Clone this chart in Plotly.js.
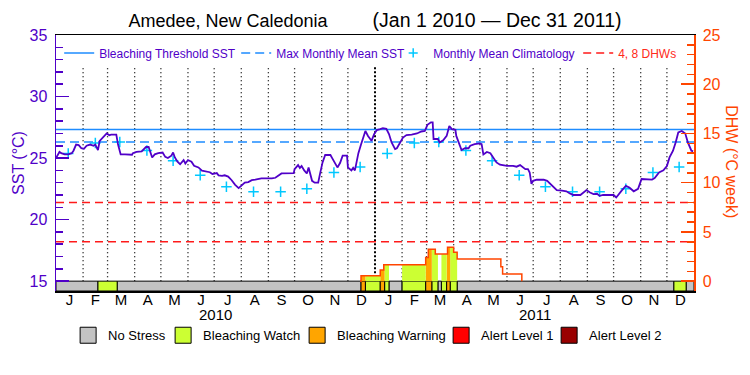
<!DOCTYPE html>
<html><head><meta charset="utf-8">
<script src="https://cdn.plot.ly/plotly-3.0.1.min.js"></script>
<style>html,body{margin:0;padding:0;background:#fff}</style>
</head><body><div id="chart" style="width:750px;height:375px"></div>
<script>
// ---------- data ----------
const sstDates = ['2010-01-01','2010-01-03','2010-01-05','2010-01-07','2010-01-11','2010-01-15','2010-01-19','2010-01-21','2010-01-24','2010-01-27','2010-01-30','2010-02-02','2010-02-05','2010-02-09','2010-02-13','2010-02-15','2010-02-18','2010-02-20','2010-02-24','2010-02-28','2010-03-03','2010-03-05','2010-03-10','2010-03-11','2010-03-13','2010-03-16','2010-03-21','2010-03-25','2010-03-29','2010-03-30','2010-04-03','2010-04-09','2010-04-14','2010-04-17','2010-04-19','2010-04-21','2010-04-24','2010-04-28','2010-05-03','2010-05-06','2010-05-09','2010-05-13','2010-05-15','2010-05-17','2010-05-20','2010-05-23','2010-05-27','2010-05-29','2010-06-01','2010-06-05','2010-06-08','2010-06-13','2010-06-17','2010-06-22','2010-06-26','2010-06-29','2010-07-04','2010-07-06','2010-07-10','2010-07-13','2010-07-17','2010-07-21','2010-07-25','2010-07-29','2010-08-01','2010-08-05','2010-08-09','2010-08-13','2010-08-17','2010-08-24','2010-09-05','2010-09-09','2010-09-16','2010-09-24','2010-09-30','2010-10-01','2010-10-05','2010-10-07','2010-10-09','2010-10-12','2010-10-15','2010-10-17','2010-10-21','2010-10-24','2010-10-28','2010-10-30','2010-11-02','2010-11-05','2010-11-11','2010-11-13','2010-11-16','2010-11-19','2010-11-22','2010-11-25','2010-11-30','2010-12-01','2010-12-05','2010-12-07','2010-12-09','2010-12-11','2010-12-13','2010-12-16','2010-12-19','2010-12-21','2010-12-24','2010-12-28','2010-12-31',
'2011-01-03','2011-01-07','2011-01-10','2011-01-14','2011-01-17','2011-01-20','2011-01-24','2011-01-26','2011-01-30','2011-02-02','2011-02-06','2011-02-12','2011-02-18','2011-02-23','2011-02-27','2011-03-02','2011-03-06','2011-03-08','2011-03-09','2011-03-14','2011-03-16','2011-03-20','2011-03-24','2011-03-27','2011-03-30','2011-04-03','2011-04-04','2011-04-06','2011-04-08','2011-04-10','2011-04-14','2011-04-18','2011-04-20','2011-04-25','2011-05-01','2011-05-03','2011-05-05','2011-05-09','2011-05-13','2011-05-16','2011-05-20','2011-05-24','2011-06-01','2011-06-08','2011-06-12','2011-06-16','2011-06-19','2011-06-22','2011-06-25','2011-06-27','2011-06-29','2011-07-01','2011-07-05','2011-07-13','2011-07-17','2011-07-20','2011-07-24','2011-07-28','2011-08-03','2011-08-08','2011-08-12','2011-08-16','2011-08-24','2011-08-27','2011-08-31','2011-09-04','2011-09-08','2011-09-12','2011-09-15','2011-09-19','2011-10-01','2011-10-04','2011-10-06','2011-10-10','2011-10-15','2011-10-19','2011-10-24','2011-10-29','2011-11-02','2011-11-08','2011-11-14','2011-11-17','2011-11-22','2011-11-27','2011-12-01','2011-12-04','2011-12-08','2011-12-11','2011-12-14','2011-12-18','2011-12-22','2011-12-25','2011-12-29','2011-12-31'];
const sstValues = [25.0,25.3,25.5,25.4,25.3,25.3,25.4,25.6,26.1,26.05,25.8,25.75,26.0,26.1,26.0,26.1,25.65,26.4,26.7,27.0,26.85,26.9,26.9,26.9,26.1,25.3,25.3,25.27,25.27,25.4,25.5,25.55,25.9,25.9,25.5,25.05,25.3,25.4,25.45,25.1,25.0,25.2,25.45,25.05,24.7,24.5,24.84,24.56,24.84,24.7,24.37,24.24,23.97,23.9,23.85,23.7,23.78,23.6,23.55,23.6,23.5,23.2,22.83,22.56,22.72,23.0,23.05,23.2,23.25,23.35,23.35,23.4,23.75,23.78,23.78,24.1,24.43,24.2,24.35,24.0,23.75,24.24,23.15,23.0,23.0,23.7,24.65,25.25,25.25,25.0,24.65,24.24,24.6,25.2,25.2,24.24,24.0,24.2,24.0,24.78,25.4,26.1,26.7,27.2,26.8,26.4,26.95,
27.27,27.35,27.43,27.38,26.95,26.27,25.73,25.8,26.27,26.67,26.87,26.9,27.0,27.16,27.2,27.7,27.9,27.9,26.55,26.55,26.27,26.45,26.8,27.6,27.35,27.3,26.8,26.4,26.0,25.65,25.8,25.8,26.0,26.14,26.2,26.14,25.3,25.5,25.4,25.05,24.65,24.46,24.37,24.37,24.3,24.43,24.3,24.1,24.1,23.83,22.9,23.15,23.24,23.24,23.15,22.93,22.67,22.4,22.35,22.3,22.13,22.0,22.0,22.2,22.4,22.2,22.07,22.1,21.93,22.0,22.0,21.8,22.0,22.34,22.75,22.6,22.3,22.5,23.3,23.3,23.25,23.37,23.83,24.0,24.35,25.05,25.6,26.27,27.08,27.2,27.0,26.27,25.6,25.55];

// monthly mean climatology (Jan..Dec), shown mid-month in each year
const climValues = [25.37,26.22,26.3,25.62,24.78,23.6,22.68,22.26,22.26,22.5,23.83,24.27];
const climYears = [2010, 2011];
const maxMonthlyMean = 26.31;
const bleachingThreshold = 27.33;
const dhwLevels = [4, 8];

// Degree heating weeks (step series)
const dhwDates  = ['2010-12-15','2010-12-16','2011-01-07','2011-01-11','2011-02-28','2011-03-03','2011-03-11','2011-03-25','2011-04-01','2011-04-05','2011-05-25','2011-05-27','2011-06-18'];
const dhwValues = [0,0.55,1.14,1.66,2.4,3.25,2.75,3.45,2.93,2.26,1.47,0.73,0];

// Bleaching alert status periods (level: 0 none,1 watch,2 warning,3 alert1,4 alert2)
const statusStarts = ['2010-01-01','2010-02-18','2010-03-12','2010-12-16','2010-12-21','2011-01-07','2011-01-12','2011-01-17','2011-02-01','2011-02-28','2011-03-07','2011-03-14','2011-03-18','2011-03-24','2011-03-28','2011-04-05','2011-12-09','2011-12-23'];
const statusLevels = [0,1,0,2,1,2,1,0,1,2,1,0,1,2,1,0,1,0];
const periodEnd = '2012-01-01';
const statusNames  = ['No Stress','Bleaching Watch','Bleaching Warning','Alert Level 1','Alert Level 2'];
const statusColors = ['#C3C3C3','#CCFF33','#FFA500','#FF0000','#990000'];

const monthLetters = ['J','F','M','A','M','J','J','A','S','O','N','D'];
const yearLabels = ['2010','2011'];

// ---------- styling ----------
const PURPLE = '#5000C8', ORANGE = '#FF4500', BLUE = '#1E8CFF', CYAN = '#00C8FF', RED = '#FF1A1A';
const FONT = 'Liberation Sans, Arial, sans-serif';

const ms = s => Date.parse(s);
const traces = [];

// status bar (drawn on DHW axis between -1 and 0)
const statusEnds = statusStarts.slice(1).concat([periodEnd]);
for (let lvl = 0; lvl < 5; lvl++) {
  const xs = [], ws = [];
  statusStarts.forEach((s, i) => {
    if (statusLevels[i] !== lvl) return;
    const a = ms(s), b = ms(statusEnds[i]);
    xs.push((a + b) / 2); ws.push(b - a);
  });
  traces.push({type:'bar', x:xs, y:xs.map(() => 1), base:-1, width:ws, yaxis:'y2',
    marker:{color:statusColors[lvl], line:{color:'#000', width:1}}, showlegend:false, hoverinfo:'skip'});
}

// DHW fill under the curve, coloured by alert status
function dhwAt(t) {
  let v = 0;
  dhwDates.forEach((d, i) => { if (ms(d) <= t) v = dhwValues[i]; });
  return v;
}
statusStarts.forEach((s, i) => {
  const lvl = statusLevels[i];
  if (lvl === 0) return;
  const a = ms(s), b = ms(statusEnds[i]);
  const xs = [a], ys = [dhwAt(a)];
  dhwDates.forEach((d, k) => { const t = ms(d); if (t > a && t < b) { xs.push(t); ys.push(dhwValues[k]); } });
  xs.push(b); ys.push(ys[ys.length - 1]);
  if (Math.max(...ys) <= 0) return;
  traces.unshift({type:'scatter', mode:'lines', x:xs, y:ys, yaxis:'y2', line:{shape:'hv', width:0},
    fill:'tozeroy', fillcolor:statusColors[lvl], showlegend:false, hoverinfo:'skip'});
});

// DHW line
traces.push({type:'scatter', mode:'lines', x:dhwDates, y:dhwValues, yaxis:'y2',
  line:{shape:'hv', color:ORANGE, width:1.5}, showlegend:false, hoverinfo:'skip'});

// month separators (dotted)
const monthStarts = [];
climYears.forEach(y => { for (let m = 0; m < 12; m++) monthStarts.push(Date.UTC(y, m, 1)); });
monthStarts.push(ms(periodEnd));
const gx = [], gy = [], yx = [], yy = [];
monthStarts.slice(1, -1).forEach(t => {
  if (t === Date.UTC(2011, 0, 1)) { yx.push(t, t, null); yy.push(15, 32.5, null); }
  else { gx.push(t, t, null); gy.push(15, 32.5, null); }
});
const gridTraces = [
  {type:'scatter', mode:'lines', x:gx, y:gy, connectgaps:false, line:{color:'#000', width:1.3, dash:'1px,3px'}, showlegend:false, hoverinfo:'skip'},
  {type:'scatter', mode:'lines', x:yx, y:yy, line:{color:'#000', width:2, dash:'2px,2px'}, showlegend:false, hoverinfo:'skip'}
];

// reference lines + legend items
const lineTraces = [
  {type:'scatter', mode:'lines', name:'Bleaching Threshold SST', x:[ms(statusStarts[0]), ms(periodEnd)],
   y:[bleachingThreshold, bleachingThreshold], line:{color:BLUE, width:1.5}, legendwidth:132, hoverinfo:'skip'},
  {type:'scatter', mode:'lines', name:'Max Monthly Mean SST', x:[ms(statusStarts[0]), ms(periodEnd)],
   y:[maxMonthlyMean, maxMonthlyMean], line:{color:BLUE, width:1.5, dash:'9px,5px'}, legendwidth:112, hoverinfo:'skip'},
];
const cx = [], cy = [];
climYears.forEach(y => climValues.forEach((v, m) => { cx.push(Date.UTC(y, m, 15)); cy.push(v); }));
const climTrace = {type:'scatter', mode:'markers', x:cx, y:cy, showlegend:false,
  marker:{symbol:'cross-thin-open', size:7.5, line:{color:CYAN, width:1.5}, color:CYAN}, hoverinfo:'skip'};
const climLegend = {type:'scatter', mode:'markers', name:'Monthly Mean Climatology', x:[null], y:[null],
  marker:{symbol:'cross-thin-open', size:6.5, line:{color:CYAN, width:1.5}, color:CYAN}, legendwidth:140};
const dx = [], dy = [];
dhwLevels.forEach(l => { dx.push(ms(statusStarts[0]), ms(periodEnd), null); dy.push(l, l, null); });
const dhwLevelTrace = {type:'scatter', mode:'lines', name:'<span style="color:#FF2A1A">4, 8 DHWs</span>', x:dx, y:dy, yaxis:'y2',
  line:{color:RED, width:1.5, dash:'8px,5px'}, legendwidth:60, hoverinfo:'skip'};

// SST line
const sstTrace = {type:'scatter', mode:'lines', x:sstDates, y:sstValues, line:{color:PURPLE, width:1.8},
  showlegend:false, hoverinfo:'skip'};

// status legend entries
const statusLegendWidths = [50, 89, 99, 63, 80];
const statusLegend = statusNames.map((n, i) => ({type:'scatter', mode:'markers', x:[null], y:[null], name:n,
  legend:'legend2', legendwidth:statusLegendWidths[i],
  marker:{symbol:'square', size:16, color:statusColors[i], line:{color:'#000', width:1}}}));

const data = gridTraces.concat(lineTraces, [climLegend, climTrace, sstTrace], traces, [dhwLevelTrace], statusLegend);

// x ticks at month centres
const tickvals = [], ticktext = [];
for (let i = 0; i < monthStarts.length - 1; i++) {
  tickvals.push((monthStarts[i] + monthStarts[i + 1]) / 2);
  ticktext.push(monthLetters[i % 12]);
}

const layout = {
  width:750, height:375,
  margin:{l:56, r:56, t:35, b:84, autoexpand:false},
  paper_bgcolor:'#fff', plot_bgcolor:'#fff',
  font:{family:FONT, color:'#000'},
  barmode:'overlay',
  title:{text:'Amedee, New Caledonia' + '\u00A0'.repeat(9) + '<span style="font-size:19.5px">(Jan 1 2010 \u2014 Dec 31 2011)</span>',
    x:0.5, xanchor:'center', y:1 - 21/375, yanchor:'middle', font:{size:18, color:'#000', family:FONT}},
  xaxis:{type:'date', range:[ms(statusStarts[0]), ms(periodEnd)], tickmode:'array', tickvals:tickvals, ticktext:ticktext,
    ticks:'', showgrid:false, zeroline:false, showline:true, mirror:true, linecolor:'#000', linewidth:1.5,
    tickfont:{size:15, color:'#000'}, ticklabelstandoff:-6, fixedrange:true},
  yaxis:{range:[14.2, 35], tick0:15, dtick:5, ticks:'inside', ticklen:13, tickwidth:1.5, tickcolor:PURPLE,
    minor:{dtick:1, ticks:'inside', ticklen:7, tickwidth:1.5, tickcolor:PURPLE},
    showgrid:false, zeroline:false, showline:true, linecolor:PURPLE, linewidth:1.5,
    tickfont:{size:16, color:PURPLE}, ticklabelstandoff:4,
    title:{text:'SST (°C)', font:{size:16, color:PURPLE}, standoff:1}},
  yaxis2:{overlaying:'y', side:'right', range:[-1, 25], tick0:0, dtick:5, ticks:'inside', ticklen:13, tickwidth:1.5,
    tickcolor:ORANGE, minor:{dtick:1, ticks:'inside', ticklen:7, tickwidth:1.5, tickcolor:ORANGE},
    showgrid:false, zeroline:false, showline:true, linecolor:ORANGE, linewidth:1.5,
    tickfont:{size:16, color:ORANGE}, ticklabelstandoff:4},
  legend:{orientation:'h', x:0.005, xanchor:'left', y:0.93, yanchor:'middle', bgcolor:'rgba(0,0,0,0)',
    font:{size:12, color:PURPLE, family:FONT}, traceorder:'normal'},
  legend2:{orientation:'h', x:0.019, xanchor:'left', y:-0.173, yanchor:'middle', bgcolor:'rgba(0,0,0,0)',
    font:{size:13, color:'#000', family:FONT}, traceorder:'normal'},
  annotations:[
    {text:yearLabels[0], x:(ms('2010-01-01') + ms('2011-01-01')) / 2, xref:'x', y:-0.09, yref:'paper',
     showarrow:false, font:{size:15, color:'#000'}, yanchor:'middle'},
    {text:yearLabels[1], x:(ms('2011-01-01') + ms(periodEnd)) / 2, xref:'x', y:-0.09, yref:'paper',
     showarrow:false, font:{size:15, color:'#000'}, yanchor:'middle'},
    {text:'DHW (°C week)', textangle:90, x:(731.5 - 56) / 638, xref:'paper', y:(290.7 - 161.5) / 255.7, yref:'paper',
     showarrow:false, font:{size:16, color:ORANGE}, xanchor:'center', yanchor:'middle'}
  ]
};

Plotly.newPlot('chart', data, layout, {staticPlot:true, displayModeBar:false});
</script>
</body></html>
